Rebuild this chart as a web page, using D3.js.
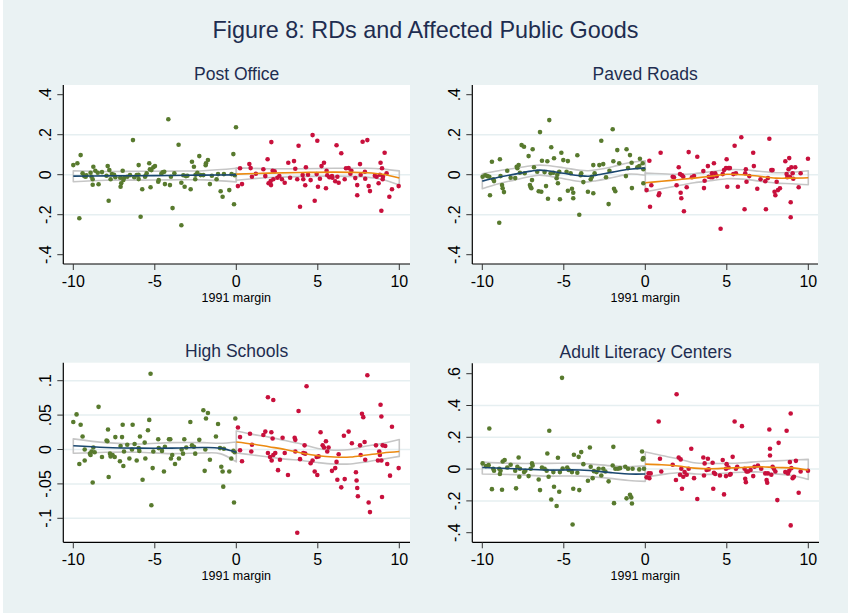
<!DOCTYPE html>
<html>
<head>
<meta charset="utf-8">
<script src="https://cdn.jsdelivr.net/npm/d3@7"></script>
<style>
  body { margin: 0; background: #ffffff; }
  svg { display: block; font-family: "Liberation Sans", Arial, Helvetica, sans-serif; }
</style>
</head>
<body>
<svg id="chart" width="848" height="615"></svg>
<script>
// ---------------------------------------------------------------
// Data: vote margin in 1991 (x) vs. change in public goods (y)
// "below" = margin < 0 (green), "above" = margin >= 0 (red)
// ---------------------------------------------------------------
const xTicks = [-10, -5, 0, 5, 10];
const xTickLabels = ["-10", "-5", "0", "5", "10"];
const xAxisTitle = "1991 margin";
const figureTitle = "Figure 8: RDs and Affected Public Goods";
const panelTitles = ["Post Office", "Paved Roads", "High Schools", "Adult Literacy Centers"];

const yTicksPostOffice = [-0.4, -0.2, 0, 0.2, 0.4];
const yLabelsPostOffice = ["-.4", "-.2", "0", ".2", ".4"];
const yTicksRoads = [-0.4, -0.2, 0, 0.2, 0.4];
const yLabelsRoads = ["-.4", "-.2", "0", ".2", ".4"];
const yTicksSchools = [-0.1, -0.05, 0, 0.05, 0.1];
const yLabelsSchools = ["-.1", "-.05", "0", ".05", ".1"];
const yTicksLiteracy = [-0.4, -0.2, 0, 0.2, 0.4, 0.6];
const yLabelsLiteracy = ["-.4", "-.2", "0", ".2", ".4", ".6"];

// Post Office
const postOfficeBelow = [[-10.0,0.048],[-9.75,0.057],[-9.55,0.098],[-9.63,-0.218],[-9.43,0.007],[-9.33,-0.007],[-9.24,-0.010],[-8.94,0.010],[-8.88,-0.010],[-8.77,0.040],[-8.81,-0.023],[-8.81,-0.050],[-8.65,0.020],[-8.45,-0.048],[-8.24,0.013],[-7.96,-0.005],[-7.89,0.043],[-7.83,-0.130],[-7.79,0.023],[-7.71,-0.023],[-7.63,0.003],[-7.42,-0.013],[-7.12,-0.015],[-7.10,-0.060],[-7.06,-0.043],[-6.97,0.020],[-6.93,-0.027],[-6.89,-0.017],[-6.69,-0.010],[-6.52,-0.002],[-6.34,0.173],[-6.26,-0.013],[-6.11,-0.002],[-5.99,0.048],[-5.99,-0.022],[-5.87,-0.210],[-5.77,-0.073],[-5.58,-0.007],[-5.50,0.007],[-5.34,0.057],[-5.30,0.027],[-5.26,-0.063],[-5.21,0.023],[-5.09,0.037],[-4.99,0.043],[-4.79,-0.035],[-4.76,-0.027],[-4.52,0.012],[-4.42,0.015],[-4.38,-0.047],[-4.17,0.277],[-4.07,-0.052],[-4.01,-0.010],[-3.91,-0.167],[-3.80,0.007],[-3.54,0.150],[-3.37,-0.040],[-3.37,-0.253],[-3.25,-0.003],[-3.17,-0.060],[-3.09,-0.007],[-2.80,-0.073],[-2.72,0.065],[-2.60,0.040],[-2.52,-0.023],[-2.39,0.010],[-2.27,0.093],[-2.19,-0.002],[-2.02,-0.002],[-1.88,0.047],[-1.86,0.057],[-1.74,0.073],[-1.62,-0.047],[-1.21,-0.023],[-1.12,0.003],[-0.96,-0.083],[-0.84,-0.110],[-0.76,0.003],[-0.43,-0.077],[-0.29,0.003],[-0.18,0.103],[-0.14,-0.148],[-0.02,0.237],[-0.10,-0.003],[-9.2,-0.003],[-8.5,0.010],[-7.5,0.000],[-6.0,0.000],[-5.6,-0.010],[-4.6,0.005],[-3.0,-0.005],[-2.5,0.000],[-1.5,-0.005]];
const postOfficeAbove = [[0.10,-0.057],[0.23,0.032],[0.35,-0.047],[0.80,0.053],[0.88,0.033],[0.96,-0.010],[1.66,0.027],[1.78,-0.007],[1.92,0.077],[1.98,-0.043],[2.11,-0.032],[2.13,-0.052],[2.15,0.163],[2.23,0.020],[2.27,-0.023],[2.35,0.017],[2.52,-0.015],[2.64,-0.007],[2.80,-0.023],[2.97,-0.040],[3.19,0.060],[3.54,0.068],[3.62,0.030],[3.74,-0.023],[3.82,0.145],[3.91,-0.160],[4.07,-0.002],[4.11,-0.023],[4.23,-0.053],[4.27,0.037],[4.56,-0.027],[4.68,0.198],[4.81,-0.130],[4.93,0.003],[4.97,0.170],[5.01,-0.060],[5.13,-0.020],[5.23,0.043],[5.38,0.060],[5.50,-0.068],[5.54,0.020],[5.58,-0.003],[5.71,-0.013],[5.87,-0.007],[6.07,-0.033],[6.15,0.147],[6.20,-0.010],[6.28,-0.040],[6.44,0.107],[6.65,-0.023],[6.73,0.032],[6.89,0.033],[7.06,0.020],[7.30,-0.017],[7.42,-0.052],[7.42,-0.103],[7.59,0.053],[7.63,0.000],[7.75,0.165],[7.89,0.015],[7.91,-0.020],[8.04,0.173],[8.12,-0.057],[8.20,-0.082],[8.61,-0.010],[8.73,-0.043],[8.81,0.000],[8.85,0.060],[8.90,-0.180],[8.94,0.032],[8.98,-0.023],[9.10,0.110],[9.22,0.007],[9.39,-0.110],[9.55,-0.073],[9.96,-0.057],[1.2,0.005],[3.3,-0.015],[4.4,0.000],[5.9,-0.015],[7.0,0.005],[8.5,-0.005],[9.0,-0.010]];
const postOfficeFitBelowX = [-10, -8, -6, -4, -2, 0];
const postOfficeFitBelow = [-0.007, -0.006, -0.005, -0.004, -0.002, -0.001];
const postOfficeHiBelow = [0.020, 0.016, 0.017, 0.018, 0.020, 0.032];
const postOfficeLoBelow = [-0.035, -0.028, -0.027, -0.026, -0.026, -0.036];
const postOfficeFitAboveX = [0, 2, 4, 6, 8, 9, 10];
const postOfficeFitAbove = [0.003, 0.008, 0.011, 0.013, 0.010, 0.002, -0.017];
const postOfficeHiAbove = [0.034, 0.030, 0.030, 0.032, 0.032, 0.028, 0.019];
const postOfficeLoAbove = [-0.028, -0.014, -0.009, -0.007, -0.012, -0.025, -0.052];

// Paved Roads
const roadsBelow = [[-9.98,-0.010],[-9.82,-0.003],[-9.69,-0.007],[-9.57,-0.010],[-9.53,-0.103],[-9.41,0.065],[-9.33,-0.023],[-9.28,-0.032],[-8.96,-0.240],[-8.92,0.077],[-8.88,-0.007],[-8.79,-0.052],[-8.75,-0.068],[-8.67,-0.087],[-8.47,0.020],[-8.26,-0.015],[-7.98,-0.017],[-7.89,0.040],[-7.85,0.032],[-7.77,0.048],[-7.69,0.010],[-7.59,0.148],[-7.44,0.140],[-7.40,0.007],[-7.16,0.093],[-7.08,-0.052],[-7.03,-0.063],[-6.99,-0.068],[-6.95,-0.027],[-6.91,0.127],[-6.83,0.037],[-6.63,0.015],[-6.54,-0.083],[-6.46,0.213],[-6.38,-0.085],[-6.34,0.070],[-6.18,0.013],[-6.09,-0.057],[-6.01,0.067],[-5.97,-0.120],[-5.89,0.273],[-5.81,0.007],[-5.77,0.137],[-5.64,0.010],[-5.60,0.082],[-5.44,-0.018],[-5.36,-0.043],[-5.28,0.015],[-5.24,-0.123],[-5.15,0.110],[-5.03,0.073],[-4.83,0.015],[-4.75,0.068],[-4.75,-0.080],[-4.58,0.007],[-4.50,-0.070],[-4.42,-0.090],[-4.42,-0.118],[-4.17,0.097],[-4.05,-0.200],[-3.97,-0.003],[-3.93,0.007],[-3.80,-0.037],[-3.52,-0.085],[-3.35,-0.023],[-3.27,-0.010],[-3.19,0.048],[-3.19,-0.093],[-3.11,0.007],[-2.82,0.048],[-2.70,0.170],[-2.58,0.053],[-2.41,-0.013],[-2.25,-0.147],[-2.00,0.227],[-1.96,0.067],[-1.92,-0.070],[-1.84,-0.083],[-1.72,0.123],[-1.60,0.057],[-1.19,-0.007],[-1.15,0.127],[-1.06,0.033],[-0.94,0.098],[-0.84,0.060],[-0.82,-0.067],[-0.49,0.037],[-0.37,0.043],[-0.33,0.080],[-0.16,0.057],[-0.12,0.027],[-0.12,-0.043],[-5.4,0.000],[-2.2,0.020]];
const roadsAbove = [[0.08,-0.077],[0.25,0.070],[0.29,-0.160],[0.37,-0.053],[0.94,0.110],[0.82,-0.103],[0.86,-0.093],[1.68,-0.010],[1.76,-0.013],[1.92,-0.053],[2.05,0.037],[2.13,0.003],[2.17,-0.090],[2.21,-0.118],[2.25,-0.003],[2.33,-0.010],[2.37,-0.183],[2.54,-0.063],[2.66,0.113],[2.86,-0.013],[2.99,-0.007],[3.19,0.090],[3.56,0.018],[3.60,-0.067],[3.64,-0.030],[3.84,0.043],[3.89,-0.010],[4.01,-0.013],[4.09,0.007],[4.13,-0.013],[4.21,0.057],[4.29,0.007],[4.38,-0.007],[4.62,-0.270],[4.75,0.003],[4.83,0.023],[4.95,0.033],[4.99,0.077],[5.03,-0.060],[5.11,0.033],[5.19,0.033],[5.40,0.003],[5.48,0.145],[5.56,0.007],[5.68,-0.060],[5.89,0.187],[6.09,-0.173],[6.13,0.007],[6.17,0.027],[6.21,-0.035],[6.38,-0.007],[6.62,0.110],[6.66,0.043],[6.87,-0.070],[7.07,-0.023],[7.36,-0.033],[7.40,-0.173],[7.52,-0.017],[7.61,0.180],[7.73,0.023],[7.81,0.023],[7.93,-0.085],[7.98,-0.103],[8.06,-0.035],[8.14,-0.077],[8.26,-0.068],[8.59,0.067],[8.67,0.003],[8.71,-0.013],[8.79,0.027],[8.83,0.083],[8.87,-0.010],[8.92,-0.138],[8.92,-0.213],[8.96,0.037],[9.04,0.007],[9.08,-0.020],[9.20,0.037],[9.41,-0.063],[9.53,0.007],[9.98,0.080]];
const roadsFitBelowX = [-10, -9, -8, -7, -6.5, -6, -5, -4, -3.5, -3, -2, -1, 0];
const roadsFitBelow = [-0.032, -0.013, 0.003, 0.018, 0.023, 0.020, 0.007, -0.005, -0.008, -0.002, 0.013, 0.027, 0.033];
const roadsHiBelow = [0.005, 0.020, 0.032, 0.045, 0.048, 0.046, 0.035, 0.022, 0.020, 0.025, 0.040, 0.060, 0.070];
const roadsLoBelow = [-0.070, -0.045, -0.026, -0.008, -0.002, -0.006, -0.020, -0.034, -0.036, -0.030, -0.014, 0.003, -0.003];
const roadsFitAboveX = [0, 1, 2, 3, 4, 5, 6, 7, 8, 9, 10];
const roadsFitAbove = [-0.040, -0.033, -0.025, -0.017, -0.008, 0.002, 0.000, -0.008, -0.017, -0.017, -0.015];
const roadsHiAbove = [0.008, 0.005, 0.002, 0.005, 0.015, 0.025, 0.025, 0.017, 0.010, 0.013, 0.020];
const roadsLoAbove = [-0.085, -0.070, -0.055, -0.040, -0.030, -0.020, -0.022, -0.032, -0.042, -0.045, -0.050];

// High Schools
const schoolsBelow = [[-10,0.040],[-9.80,0.051],[-9.63,-0.021],[-9.55,0.036],[-9.43,0.019],[-9.30,0.000],[-9.30,-0.016],[-8.98,-0.006],[-8.94,-0.008],[-8.88,-0.003],[-8.81,-0.048],[-8.77,0.003],[-8.69,-0.004],[-8.45,0.062],[-8.24,-0.011],[-7.96,0.013],[-7.91,0.012],[-7.87,0.029],[-7.83,-0.040],[-7.75,-0.006],[-7.71,-0.010],[-7.59,-0.008],[-7.46,-0.011],[-7.42,0.018],[-7.14,-0.017],[-7.10,0.005],[-7.01,0.018],[-6.97,0.036],[-6.93,-0.024],[-6.89,-0.003],[-6.69,0.007],[-6.56,-0.013],[-6.40,0.000],[-6.36,0.036],[-6.24,0.008],[-6.11,-0.016],[-5.99,0.002],[-5.95,-0.002],[-5.91,0.019],[-5.75,-0.044],[-5.62,0.010],[-5.58,-0.013],[-5.42,0.028],[-5.34,0.043],[-5.26,0.110],[-5.21,-0.081],[-5.13,-0.027],[-5.09,-0.003],[-4.79,0.015],[-4.76,0.002],[-4.56,-0.002],[-4.44,-0.032],[-4.38,0.004],[-4.13,0.015],[-4.05,0.015],[-4.01,-0.013],[-3.93,-0.008],[-3.76,-0.021],[-3.52,-0.013],[-3.35,0.000],[-3.27,-0.006],[-3.19,0.015],[-3.07,0.003],[-2.82,0.040],[-2.72,0.006],[-2.60,0.004],[-2.52,-0.006],[-2.27,0.014],[-2.02,0.057],[-1.94,-0.031],[-1.90,0.000],[-1.86,0.045],[-1.74,0.053],[-1.62,-0.015],[-1.25,0.019],[-1.12,0.037],[-1.00,0.002],[-0.92,-0.025],[-0.84,-0.032],[-0.80,-0.054],[-0.76,0.001],[-0.43,-0.032],[-0.31,-0.013],[-0.18,-0.002],[-0.14,-0.077],[-0.06,0.045],[-0.10,-0.004]];
const schoolsAbove = [[0.10,0.032],[0.23,0.018],[0.23,-0.001],[0.35,-0.017],[0.84,0.023],[0.92,-0.003],[0.96,0.007],[1.66,0.021],[1.78,0.026],[1.94,0.076],[1.94,-0.005],[2.07,-0.011],[2.15,0.025],[2.17,-0.016],[2.23,0.016],[2.27,0.072],[2.27,-0.008],[2.39,-0.005],[2.56,-0.030],[2.68,-0.015],[2.84,0.017],[2.97,-0.005],[3.17,-0.037],[3.58,0.017],[3.62,0.014],[3.62,-0.003],[3.74,-0.121],[3.82,0.056],[3.91,-0.014],[4.11,-0.005],[4.19,0.006],[4.23,-0.006],[4.31,0.092],[4.56,-0.020],[4.68,-0.016],[4.81,-0.032],[4.93,-0.011],[4.97,-0.037],[5.05,-0.010],[5.17,0.025],[5.30,0.006],[5.38,0.003],[5.50,0.012],[5.58,-0.003],[5.66,0.003],[5.87,-0.031],[6.07,-0.027],[6.15,-0.018],[6.20,-0.044],[6.28,-0.007],[6.44,-0.055],[6.60,0.020],[6.65,-0.043],[6.89,0.026],[7.09,0.009],[7.34,-0.033],[7.38,-0.045],[7.42,-0.056],[7.46,-0.068],[7.59,0.006],[7.63,-0.008],[7.71,0.052],[7.79,0.047],[7.87,0.011],[7.91,-0.015],[8.04,0.108],[8.12,-0.077],[8.20,-0.091],[8.57,0.006],[8.69,-0.016],[8.77,-0.003],[8.81,-0.008],[8.85,0.065],[8.90,0.048],[8.90,-0.016],[8.94,-0.069],[8.98,0.006],[9.14,0.005],[9.26,-0.021],[9.43,-0.038],[9.55,0.033],[9.96,-0.027]];
const schoolsFitBelowX = [-10, -8, -6, -4, -2, -1, 0];
const schoolsFitBelow = [0.0055, 0.003, 0.002, 0.002, 0.003, 0.002, -0.004];
const schoolsHiBelow = [0.0155, 0.010, 0.008, 0.010, 0.010, 0.009, 0.011];
const schoolsLoBelow = [-0.0055, -0.004, -0.004, -0.006, -0.005, -0.006, -0.018];
const schoolsFitAboveX = [0, 1, 2, 3, 4, 5, 6, 7, 8, 9, 10];
const schoolsFitAbove = [0.011, 0.008, 0.004, 0.000, -0.005, -0.009, -0.011, -0.011, -0.008, -0.005, -0.003];
const schoolsHiAbove = [0.027, 0.022, 0.018, 0.013, 0.008, 0.0015, -0.001, 0.000, 0.005, 0.009, 0.0145];
const schoolsLoAbove = [-0.005, -0.008, -0.011, -0.014, -0.016, -0.019, -0.021, -0.021, -0.018, -0.014, -0.010];

// Adult Literacy Centers
const literacyBelow = [[-9.98,0.036],[-9.78,0.019],[-9.61,0.025],[-9.57,0.255],[-9.41,-0.126],[-9.33,0.002],[-9.28,-0.010],[-8.96,0.002],[-8.92,-0.031],[-8.88,-0.010],[-8.79,-0.130],[-8.75,0.048],[-8.63,0.057],[-8.47,0.010],[-8.26,0.027],[-7.98,-0.010],[-7.93,-0.121],[-7.85,0.015],[-7.77,0.073],[-7.73,-0.048],[-7.69,0.002],[-7.44,-0.019],[-7.36,-0.010],[-7.16,-0.044],[-7.03,0.002],[-6.95,0.036],[-6.91,0.023],[-6.54,-0.065],[-6.46,-0.132],[-6.34,0.010],[-6.18,0.002],[-6.05,-0.010],[-6.01,0.098],[-5.93,-0.048],[-5.89,0.241],[-5.77,-0.191],[-5.64,-0.019],[-5.60,-0.111],[-5.44,-0.232],[-5.36,0.071],[-5.28,-0.142],[-5.24,-0.019],[-5.11,0.574],[-5.07,0.004],[-4.79,0.010],[-4.70,-0.006],[-4.50,-0.019],[-4.46,-0.348],[-4.42,-0.124],[-4.38,0.090],[-4.17,-0.023],[-4.09,0.077],[-4.05,-0.132],[-3.93,0.107],[-3.80,0.031],[-3.52,-0.073],[-3.40,0.136],[-3.35,0.015],[-3.23,-0.057],[-3.15,-0.013],[-2.99,-0.019],[-2.86,0.002],[-2.70,-0.040],[-2.58,0.002],[-2.45,-0.015],[-2.25,-0.077],[-2.00,0.023],[-1.96,0.140],[-1.92,-0.214],[-1.84,0.002],[-1.68,0.002],[-1.55,0.006],[-1.23,0.015],[-1.15,-0.184],[-1.06,0.002],[-0.94,-0.161],[-0.86,-0.178],[-0.82,-0.216],[-0.78,0.002],[-0.37,-0.002],[-0.20,0.111],[-0.16,0.061],[-0.12,0.069],[-0.08,0.002]];
const literacyAbove = [[0.08,-0.052],[0.20,-0.027],[0.25,-0.057],[0.33,-0.027],[0.82,0.299],[0.90,0.065],[0.98,-0.015],[1.68,0.027],[1.88,-0.069],[1.92,0.471],[2.05,0.073],[2.13,-0.036],[2.17,0.061],[2.21,0.002],[2.25,-0.124],[2.33,-0.048],[2.41,-0.019],[2.54,-0.036],[2.66,0.002],[2.82,0.128],[2.99,-0.057],[3.19,-0.188],[3.56,0.073],[3.60,-0.040],[3.64,0.036],[3.76,-0.006],[3.84,0.065],[3.89,-0.002],[4.13,0.040],[4.17,-0.124],[4.21,-0.023],[4.29,-0.031],[4.58,-0.040],[4.75,0.057],[4.83,-0.159],[4.95,0.002],[4.95,-0.044],[4.99,0.031],[5.11,0.010],[5.19,-0.036],[5.24,-0.031],[5.36,0.077],[5.48,0.299],[5.56,0.002],[5.64,0.015],[5.93,0.270],[6.09,0.002],[6.13,-0.061],[6.17,-0.082],[6.21,-0.015],[6.30,-0.015],[6.46,-0.006],[6.62,-0.044],[6.70,0.015],[6.91,0.023],[7.11,0.002],[7.36,-0.027],[7.44,-0.069],[7.48,-0.086],[7.52,-0.027],[7.61,0.249],[7.65,0.128],[7.65,0.086],[7.73,-0.036],[7.81,0.015],[7.89,0.002],[7.98,-0.015],[8.10,-0.195],[8.18,0.165],[8.59,-0.019],[8.67,0.241],[8.75,-0.027],[8.83,-0.010],[8.87,0.044],[8.92,0.350],[8.92,-0.354],[8.96,0.006],[9.04,-0.057],[9.12,-0.048],[9.24,0.052],[9.41,-0.149],[9.53,-0.015],[9.98,-0.010]];
const literacyFitBelowX = [-10, -8, -6, -4, -2, -1, 0];
const literacyFitBelow = [0.010, 0.002, -0.006, -0.006, -0.023, -0.031, -0.031];
const literacyHiBelow = [0.044, 0.036, 0.036, 0.036, 0.020, 0.015, 0.020];
const literacyLoBelow = [-0.031, -0.035, -0.044, -0.044, -0.060, -0.072, -0.077];
const literacyFitAboveX = [0, 1, 2, 3, 4, 5, 6, 7, 8, 9, 10];
const literacyFitAbove = [0.031, 0.027, 0.019, 0.006, 0.002, 0.006, 0.010, 0.015, 0.010, 0.008, -0.006];
const literacyHiAbove = [0.107, 0.085, 0.065, 0.040, 0.036, 0.036, 0.040, 0.048, 0.052, 0.057, 0.061];
const literacyLoAbove = [-0.052, -0.035, -0.023, -0.030, -0.033, -0.025, -0.020, -0.018, -0.030, -0.040, -0.065];

// ---------------------------------------------------------------
// Styling
// ---------------------------------------------------------------
const COL = {
  bg: "#eaf2f3",
  plot: "#ffffff",
  grid: "#e6eff1",
  title: "#1e2d50",
  below: "#587a2e",
  above: "#c8103c",
  fitBelow: "#1a476f",
  fitAbove: "#ec8a10",
  ci: "#c6c6c6"
};

const svg = d3.select("#chart");
svg.append("rect").attr("x", 3).attr("y", 0).attr("width", 845).attr("height", 613).attr("fill", COL.bg);

svg.append("text")
  .attr("x", 425.5).attr("y", 37.5)
  .attr("text-anchor", "middle")
  .attr("font-size", 23.4)
  .attr("fill", COL.title)
  .text(figureTitle);

function zipFit(xs, fit, lo, hi) {
  return xs.map((x, i) => ({ x, y: fit[i], lo: lo[i], hi: hi[i] }));
}

const panels = [
  { title: panelTitles[0], box: { l: 63.3, r: 410, t: 85, b: 264 }, xr: [73.3, 399.3], yr: [254.7, 94.7],
    yDomain: [-0.4, 0.4], yTicks: yTicksPostOffice, yLabels: yLabelsPostOffice, gridSkipEnds: true,
    below: postOfficeBelow, above: postOfficeAbove,
    fitBelow: zipFit(postOfficeFitBelowX, postOfficeFitBelow, postOfficeLoBelow, postOfficeHiBelow),
    fitAbove: zipFit(postOfficeFitAboveX, postOfficeFitAbove, postOfficeLoAbove, postOfficeHiAbove) },
  { title: panelTitles[1], box: { l: 472.3, r: 818, t: 85, b: 264 }, xr: [482.3, 808.3], yr: [254.7, 94.7],
    yDomain: [-0.4, 0.4], yTicks: yTicksRoads, yLabels: yLabelsRoads, gridSkipEnds: true,
    below: roadsBelow, above: roadsAbove,
    fitBelow: zipFit(roadsFitBelowX, roadsFitBelow, roadsLoBelow, roadsHiBelow),
    fitAbove: zipFit(roadsFitAboveX, roadsFitAbove, roadsLoAbove, roadsHiAbove) },
  { title: panelTitles[2], box: { l: 63.3, r: 410, t: 362.7, b: 542.3 }, xr: [73.3, 399.3], yr: [518.3, 380.7],
    yDomain: [-0.1, 0.1], yTicks: yTicksSchools, yLabels: yLabelsSchools, gridSkipEnds: false,
    below: schoolsBelow, above: schoolsAbove,
    fitBelow: zipFit(schoolsFitBelowX, schoolsFitBelow, schoolsLoBelow, schoolsHiBelow),
    fitAbove: zipFit(schoolsFitAboveX, schoolsFitAbove, schoolsLoAbove, schoolsHiAbove) },
  { title: panelTitles[3], box: { l: 472.3, r: 819, t: 363.3, b: 542.3 }, xr: [482.3, 808.3], yr: [532.7, 373.7],
    yDomain: [-0.4, 0.6], yTicks: yTicksLiteracy, yLabels: yLabelsLiteracy, gridSkipEnds: true,
    below: literacyBelow, above: literacyAbove,
    fitBelow: zipFit(literacyFitBelowX, literacyFitBelow, literacyLoBelow, literacyHiBelow),
    fitAbove: zipFit(literacyFitAboveX, literacyFitAbove, literacyLoAbove, literacyHiAbove) }
];

function drawPanel(p) {
  const g = svg.append("g");
  const x = d3.scaleLinear().domain([-10, 10]).range(p.xr);
  const y = d3.scaleLinear().domain(p.yDomain).range(p.yr);
  const B = p.box;

  // plot region
  g.append("rect").attr("x", B.l).attr("y", B.t).attr("width", B.r - B.l).attr("height", B.b - B.t).attr("fill", COL.plot);

  // horizontal grid lines
  const gridTicks = p.gridSkipEnds ? p.yTicks.slice(1, -1) : p.yTicks;
  g.selectAll(null).data(gridTicks).enter().append("line")
    .attr("x1", B.l).attr("x2", B.r)
    .attr("y1", d => y(d)).attr("y2", d => y(d))
    .attr("stroke", COL.grid).attr("stroke-width", 1.5);

  // panel title
  g.append("text")
    .attr("x", (B.l + B.r) / 2).attr("y", B.t - 5.5)
    .attr("text-anchor", "middle").attr("font-size", 17.5)
    .attr("fill", COL.title).text(p.title);

  // confidence bands (outlined)
  const band = d3.area().x(d => x(d.x)).y0(d => y(d.lo)).y1(d => y(d.hi)).curve(d3.curveCatmullRom.alpha(0.5));
  [p.fitBelow, p.fitAbove].forEach(f => {
    g.append("path").attr("d", band(f)).attr("fill", "none")
      .attr("stroke", COL.ci).attr("stroke-width", 1.6).attr("stroke-linejoin", "round");
  });

  // scatter points
  g.selectAll(null).data(p.below).enter().append("circle")
    .attr("cx", d => x(d[0])).attr("cy", d => y(d[1])).attr("r", 2.3).attr("fill", COL.below);
  g.selectAll(null).data(p.above).enter().append("circle")
    .attr("cx", d => x(d[0])).attr("cy", d => y(d[1])).attr("r", 2.3).attr("fill", COL.above);

  // fitted lines
  const line = d3.line().x(d => x(d.x)).y(d => y(d.y)).curve(d3.curveCatmullRom.alpha(0.5));
  g.append("path").attr("d", line(p.fitBelow)).attr("fill", "none").attr("stroke", COL.fitBelow).attr("stroke-width", 1.6);
  g.append("path").attr("d", line(p.fitAbove)).attr("fill", "none").attr("stroke", COL.fitAbove).attr("stroke-width", 1.6);

  // y axis
  g.append("line").attr("x1", B.l).attr("x2", B.l).attr("y1", B.t).attr("y2", B.b).attr("stroke", "#000").attr("stroke-width", 1.2);
  g.selectAll(null).data(p.yTicks).enter().append("line")
    .attr("x1", B.l - 6).attr("x2", B.l).attr("y1", d => y(d)).attr("y2", d => y(d))
    .attr("stroke", "#333").attr("stroke-width", 1);
  g.selectAll(null).data(p.yTicks).enter().append("text")
    .attr("transform", d => `translate(${B.l - 12},${y(d)}) rotate(-90)`)
    .attr("text-anchor", "middle").attr("font-size", 16).attr("fill", "#000")
    .text((d, i) => p.yLabels[i]);

  // x axis
  g.append("line").attr("x1", B.l).attr("x2", B.r).attr("y1", B.b).attr("y2", B.b).attr("stroke", "#000").attr("stroke-width", 1.2);
  g.selectAll(null).data(xTicks).enter().append("line")
    .attr("x1", d => x(d)).attr("x2", d => x(d)).attr("y1", B.b).attr("y2", B.b + 6)
    .attr("stroke", "#333").attr("stroke-width", 1);
  g.selectAll(null).data(xTicks).enter().append("text")
    .attr("x", d => x(d)).attr("y", B.b + 23)
    .attr("text-anchor", "middle").attr("font-size", 16).attr("fill", "#000")
    .text((d, i) => xTickLabels[i]);
  g.append("text")
    .attr("x", x(0)).attr("y", B.b + 37.5)
    .attr("text-anchor", "middle").attr("font-size", 12.5).attr("fill", "#000")
    .text(xAxisTitle);
}

panels.forEach(drawPanel);
</script>
</body>
</html>
